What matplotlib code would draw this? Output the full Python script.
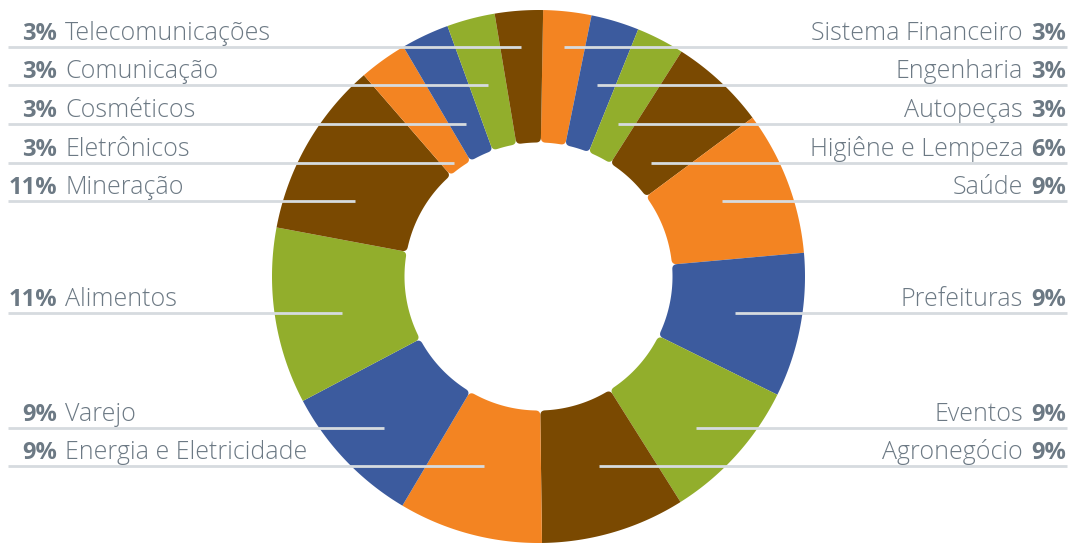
import matplotlib.pyplot as plt
import numpy as np
from matplotlib.patches import Polygon

# %% Dados

# lado direito, de cima para baixo (sentido horário a partir do topo)
setores_dir = ['Sistema Financeiro', 'Engenharia', 'Autopeças', 'Higiêne e Lempeza',
               'Saúde', 'Prefeituras', 'Eventos', 'Agronegócio']
pct_dir = [3, 3, 3, 6, 9, 9, 9, 9]

# lado esquerdo, continuando no sentido horário (de baixo para cima)
setores_esq = ['Energia e Eletricidade', 'Varejo', 'Alimentos', 'Mineração',
               'Eletrônicos', 'Cosméticos', 'Comunicação', 'Telecomunicações']
pct_esq = [9, 9, 11, 11, 3, 3, 3, 3]

cores = ['#F38422', '#3C5B9E', '#92AE2C', '#7A4901']

# %% Layout (pixels)

W, H = 1073, 543
linhas_px = [47, 85, 124, 163, 201, 313, 428, 466]  # altura das guias, de cima para baixo
texto_cor = '#6C7984'
guia_cor = '#D6DBDF'

plt.rcParams['font.family'] = ['Open Sans', 'DejaVu Sans']

fig = plt.figure(figsize=(W / 100, H / 100), dpi=100)
ax = fig.add_axes([0, 0, 1, 1])

valores = pct_dir + pct_esq
wedges, _ = ax.pie(valores, colors=[cores[i % 4] for i in range(len(valores))],
                   startangle=89, counterclock=False, radius=266.5,
                   center=(538.5, H - 276.5), frame=False,
                   wedgeprops=dict(width=132.5, linewidth=0))
ax.set_xlim(0, W)
ax.set_ylim(0, H)
ax.set_aspect('equal')
ax.axis('off')


def fatia_arredondada(w, rc=5):
    """Refaz a fatia w com os cantos internos arredondados"""
    cx, cy = w.center
    r_ext, r_int = w.r, w.r - w.width
    t1, t2 = np.radians(w.theta1), np.radians(w.theta2)
    d = rc / r_int

    def p(r, t):
        t = np.atleast_1d(t)
        return np.column_stack([cx + r * np.cos(t), cy + r * np.sin(t)])

    u = np.linspace(0, 1, 10)[:, None]

    def canto(a, b, c):
        return (1 - u) ** 2 * a + 2 * (1 - u) * u * b + u ** 2 * c

    ext = p(r_ext, np.linspace(t1, t2, 120))
    c2 = canto(p(r_int + rc, t2), p(r_int, t2), p(r_int, t2 - d))
    meio = p(r_int, np.linspace(t2 - d, t1 + d, 80))
    c1 = canto(p(r_int, t1 + d), p(r_int, t1), p(r_int + rc, t1))
    pts = np.vstack([ext, c2, meio, c1])
    return Polygon(pts, closed=True, facecolor=w.get_facecolor(), edgecolor='none')


for w in wedges:
    w.set_visible(False)
    ax.add_patch(fatia_arredondada(w))


def ponta_guia(w, y):
    """Meio do trecho da linha horizontal y que fica dentro da fatia w"""
    cx, cy = w.center
    xs = np.linspace(cx - w.r, cx + w.r, 4000)
    dx, dy = xs - cx, y - cy
    r = np.hypot(dx, dy)
    ang = np.degrees(np.arctan2(dy, dx))
    dentro = (r >= w.r - w.width) & (r <= w.r) & \
             ((ang - w.theta1) % 360 <= (w.theta2 - w.theta1))
    return xs[dentro].mean()


fs_pct = 17
fs_nome = 18
n = len(setores_dir)

# direita
for i in range(n):
    y = H - linhas_px[i]
    xe = ponta_guia(wedges[i], y)
    ax.plot([xe, 1067], [y, y], color=guia_cor, lw=2, solid_capstyle='butt', zorder=3)
    ax.text(1023, y + 7, setores_dir[i], ha='right', va='baseline', fontsize=fs_nome,
            color=texto_cor, fontweight='light')
    ax.text(1031, y + 7, '{}%'.format(pct_dir[i]), ha='left', va='baseline',
            fontsize=fs_pct, color=texto_cor, fontweight='bold')

# esquerda (Telecomunicações no topo)
for i in range(n):
    k = n - 1 - i
    y = H - linhas_px[i]
    xe = ponta_guia(wedges[n + k], y)
    ax.plot([8, xe], [y, y], color=guia_cor, lw=2, solid_capstyle='butt', zorder=3)
    ax.text(57, y + 7, '{}%'.format(pct_esq[k]), ha='right', va='baseline',
            fontsize=fs_pct, color=texto_cor, fontweight='bold')
    ax.text(65, y + 7, setores_esq[k], ha='left', va='baseline', fontsize=fs_nome,
            color=texto_cor, fontweight='light')

fig.savefig('out.png', dpi=100)
